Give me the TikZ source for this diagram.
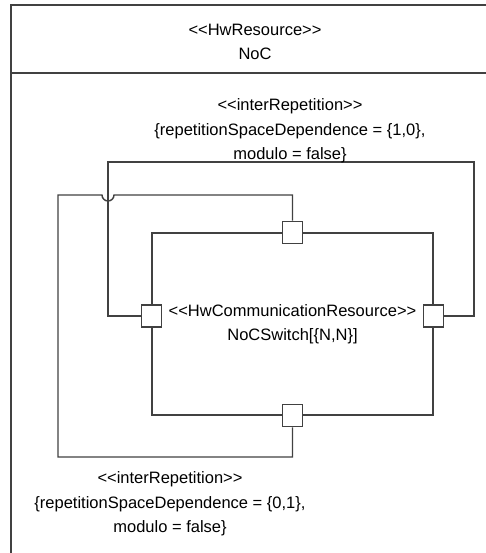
\documentclass[tikz,border=0pt]{standalone}
\usepackage{fontspec}
\usepackage{tikz}
\newfontfamily\umlfont{Liberation Sans}
\definecolor{umlgray}{RGB}{65,65,65}

\begin{document}
\begin{tikzpicture}[x=1pt, y=-1pt,
  every node/.style={font=\umlfont\fontsize{16.5}{24.5}\selectfont, align=center},
  wire/.style={draw=umlgray, line width=1.4pt},
  port/.style={draw=umlgray, line width=1.4pt, fill=white, minimum width=20pt, minimum height=22pt, inner sep=0pt}]
  \useasboundingbox (0,0) rectangle (486,553);

  % Frame of the NoC
  \draw[umlgray, line width=1.8pt] (486,5) -- (11,5) -- (11,553);
  \draw[umlgray, line width=1.8pt] (11,73) -- (486,73);
  \node (noc) at (255,42) {<<HwResource>>\\NoC};

  % Repeated switch
  \node[wire, minimum width=281pt, minimum height=182pt] (sw) at (292.5,324)
    {<<HwCommunicationResource>>\\NoCSwitch[\{N,N\}]};

  % Wire corners
  \coordinate (topL) at (108,162); \coordinate (topR) at (474,162);
  \coordinate (hopR) at (114,195); \coordinate (midL) at (58,195);
  \coordinate (botL) at (58,457);

  % Ports
  \node[port] (portL) at ([yshift=8pt]sw.west) {};
  \node[port] (portR) at ([yshift=8pt]sw.east) {};
  \node[port] (portT) at (sw.north) {};
  \node[port] (portB) at (sw.south) {};

  % Horizontal link
  \draw[wire] (portL.west) -| (topL) -- (topR) |- (portR.east);
  \node (depH) at (290,131) {<<interRepetition>>\\\{repetitionSpaceDependence = \{1,0\},\\modulo = false\}};

  % Vertical link
  \draw[wire] (portT.north) |- (hopR) arc[start angle=0, end angle=-180, radius=6pt] -- (midL) -- (botL) -| (portB.south);
  \node (depV) at (170,504) {<<interRepetition>>\\\{repetitionSpaceDependence = \{0,1\},\\modulo = false\}};
\end{tikzpicture}
\end{document}
